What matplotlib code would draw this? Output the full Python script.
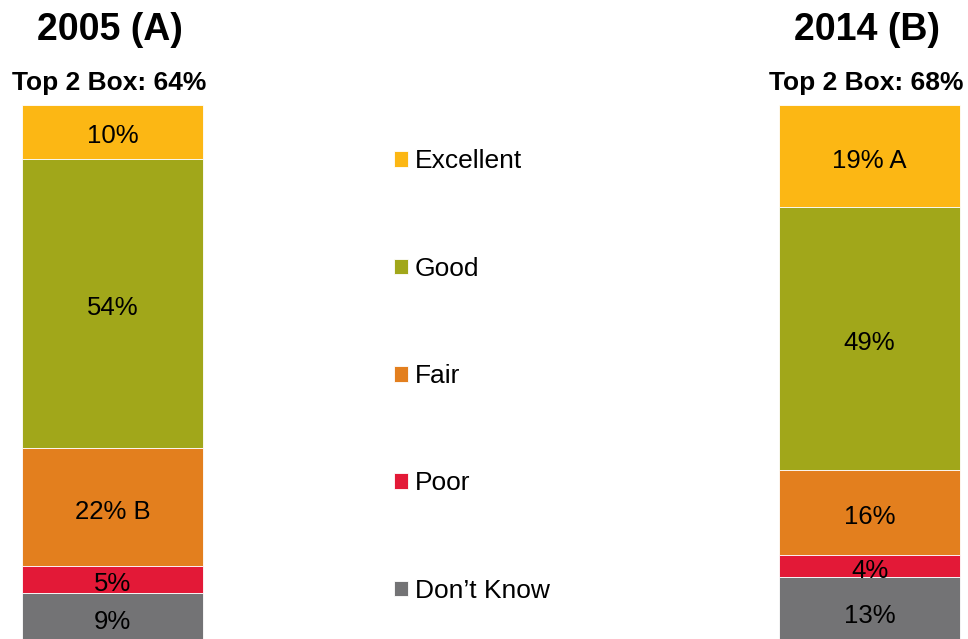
import matplotlib
matplotlib.use("Agg")
import numpy as np
import matplotlib.pyplot as plt

plt.rcParams['font.family'] = ['Liberation Sans', 'DejaVu Sans']

# data
years = ["2005 (A)", "2014 (B)"]
top2 = ["Top 2 Box: 64%", "Top 2 Box: 68%"]
categories = ["Excellent", "Good", "Fair", "Poor", "Don\u2019t Know"]
colors = ["#FCB714", "#A1A71A", "#E37F1E", "#E31937", "#737375"]
excellent = [10, 19]
good = [54, 49]
fair = [22, 16]
poor = [5, 4]
dont_know = [9, 13]
sig = [["", " A"], ["", ""], [" B", ""], ["", ""], ["", ""]]

series = [excellent, good, fair, poor, dont_know]

fig = plt.figure(figsize=(9.68, 6.39), dpi=100)
ax = fig.add_axes([0, 0, 1, 1])

x = np.arange(len(years))
bottom = np.zeros(len(years))
bars = []
for i, vals in enumerate(series):
    b = ax.bar(x, vals, width=0.239, bottom=bottom, color=colors[i],
               edgecolor="white", linewidth=0.6, label=categories[i])
    bars.append(b)
    for j, v in enumerate(vals):
        ax.annotate(f"{v}%{sig[i][j]}", (x[j], bottom[j] + v / 2),
                    xytext=(0, -3.3), textcoords="offset points",
                    ha="center", va="center", fontsize=18.5, color="black")
    bottom = bottom + np.array(vals)

# bars stack downward from the top, scale ~5.36 px per %
ax.set_xlim(-0.1486, 1.130)
ax.set_ylim(99.6, -19.6)
ax.axis("off")

for j in range(len(years)):
    ax.text(x[j] - 0.004, -13.95, years[j], ha="center", va="center",
            fontsize=27, fontweight="bold")
    ax.text(x[j] - 0.004, -4.2, top2[j], ha="center", va="center",
            fontsize=19, fontweight="bold")

leg = ax.legend(handles=bars, loc="upper left", bbox_to_anchor=(0.393, 0.787),
                frameon=False, fontsize=19, handlelength=0.53, handleheight=0.53,
                handletextpad=0.27, labelspacing=3.16, borderpad=0)

fig.savefig("out.png", dpi=100)
